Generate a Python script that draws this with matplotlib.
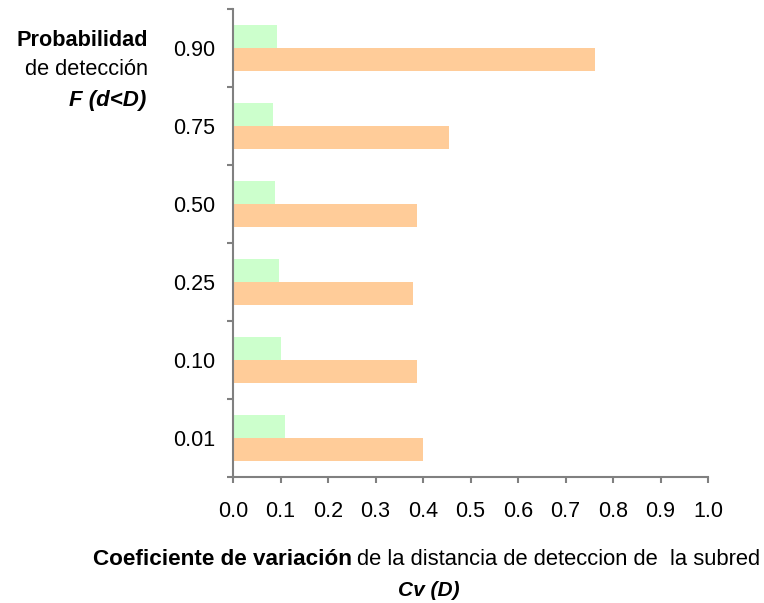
import matplotlib
matplotlib.use('Agg')
import matplotlib.pyplot as plt
import numpy as np

# Probabilidad de deteccion (bottom to top)
categories = ['0.01', '0.10', '0.25', '0.50', '0.75', '0.90']
cv_green = [0.109, 0.101, 0.097, 0.088, 0.084, 0.093]
cv_orange = [0.400, 0.387, 0.379, 0.387, 0.455, 0.762]
x_ticks = [0.0, 0.1, 0.2, 0.3, 0.4, 0.5, 0.6, 0.7, 0.8, 0.9, 1.0]

plt.rcParams['font.family'] = ['Liberation Sans', 'DejaVu Sans']

fig = plt.figure(figsize=(7.64, 6.03), dpi=100)
ax = fig.add_axes([233 / 764, 1 - 477 / 603, 475 / 764, 468 / 603])

y = np.arange(len(categories))
h = 0.29
ax.barh(y + h / 2, cv_green, height=h, color='#CCFFCC')
ax.barh(y - h / 2, cv_orange, height=h, color='#FFCC99')

ax.set_xlim(0, 1.0)
ax.set_ylim(-0.5, len(categories) - 0.5)
ax.set_xticks(x_ticks)
ax.set_xticklabels(['%.1f' % v for v in x_ticks])
ax.set_yticks(y)
ax.set_yticklabels(categories)
ax.set_yticks(np.arange(len(categories) + 1) - 0.5, minor=True)

gray = '#808080'
for s in ['top', 'right']:
    ax.spines[s].set_visible(False)
for s in ['left', 'bottom']:
    ax.spines[s].set_color(gray)
    ax.spines[s].set_linewidth(1.5)

ax.tick_params(axis='y', which='major', length=0, pad=13, labelsize=15.5)
ax.tick_params(axis='y', which='minor', length=4.5, width=1.5, color=gray)
ax.tick_params(axis='x', length=4.5, width=1.5, color=gray, pad=12.5, labelsize=15.5)

# y axis title
fig.text(148 / 764, 1 - 46 / 603, 'Probabilidad', ha='right', va='baseline',
         fontsize=15.6, fontweight='bold')
fig.text(148 / 764, 1 - 75 / 603, 'de detección', ha='right', va='baseline',
         fontsize=15.7)
fig.text(146 / 764, 1 - 106 / 603, 'F (d<D)', ha='right', va='baseline',
         fontsize=16, fontweight='bold', fontstyle='italic')

# x axis title
fig.text(352 / 764, 1 - 565 / 603, 'Coeficiente de variación', ha='right', va='baseline',
         fontsize=16.2, fontweight='bold')
fig.text(357 / 764, 1 - 565 / 603, 'de la distancia de deteccion de  la subred',
         ha='left', va='baseline', fontsize=15.8)
fig.text(429 / 764, 1 - 596 / 603, 'Cv (D)', ha='center', va='baseline',
         fontsize=15, fontweight='bold', fontstyle='italic')

fig.savefig('out.png', dpi=100)
